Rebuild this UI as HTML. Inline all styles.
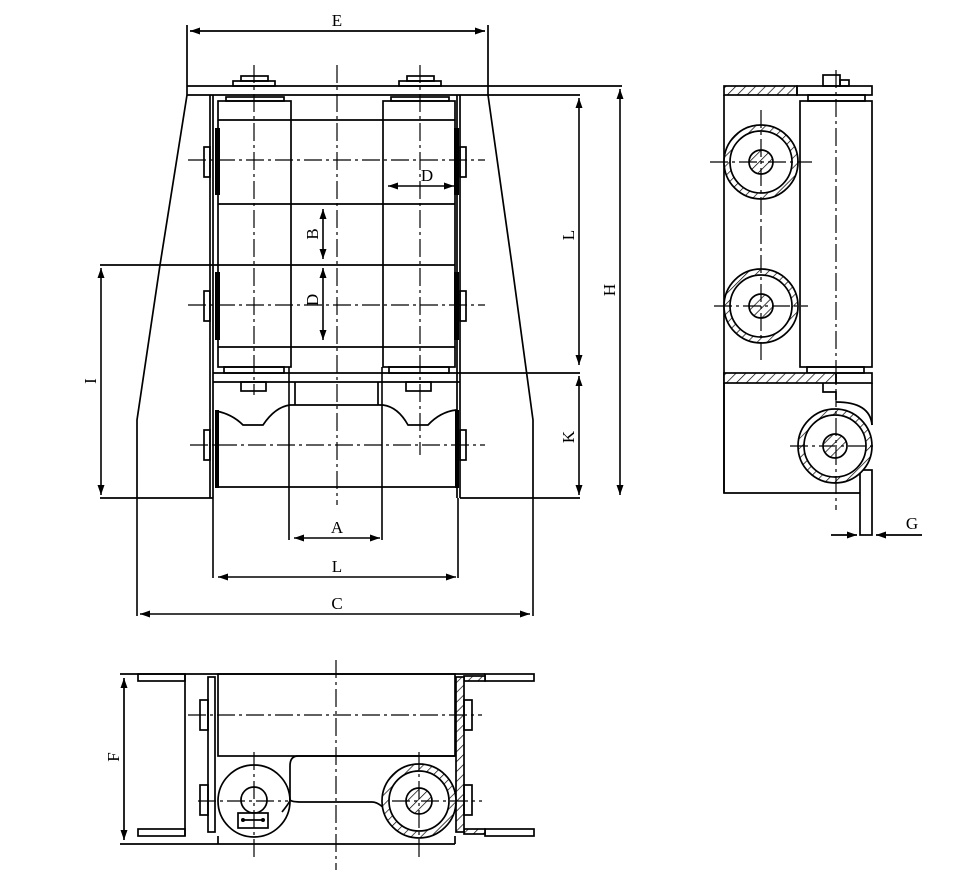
<!DOCTYPE html>
<html><head><meta charset="utf-8"><style>
html,body{margin:0;padding:0;background:#fff}
svg{display:block}
text{font-family:"Liberation Serif",serif;font-size:17px;fill:#000}
</style></head><body>
<svg width="962" height="884" viewBox="0 0 962 884" xmlns="http://www.w3.org/2000/svg">
<defs>
<pattern id="h" width="7" height="7" patternUnits="userSpaceOnUse" patternTransform="rotate(45)">
<rect width="7" height="7" fill="#fff"/><line x1="0" y1="0" x2="0" y2="7" stroke="#000" stroke-width="1.4"/>
</pattern>
<marker id="a" viewBox="0 0 10 10" refX="10" refY="5" markerWidth="10" markerHeight="10" orient="auto-start-reverse" markerUnits="userSpaceOnUse">
<path d="M0,1.5 L10,5 L0,8.5 z" fill="#000"/></marker>
</defs>
<g fill="none" stroke="#000" stroke-width="1.7">
<!-- FRONT VIEW -->
<line x1="187" y1="25" x2="187" y2="95"/><line x1="488" y1="25" x2="488" y2="95"/>
<line x1="190" y1="31" x2="485" y2="31" marker-start="url(#a)" marker-end="url(#a)"/>
<line x1="187" y1="86" x2="622" y2="86"/>
<line x1="187" y1="95" x2="580" y2="95"/>
<polyline points="187,95 160,265 137,420 137,498"/>
<polyline points="488,95 512,265 533,420 533,498"/>
<line x1="100" y1="498" x2="213" y2="498"/><line x1="460" y1="498" x2="580" y2="498"/>
<line x1="100" y1="265" x2="218" y2="265"/>
<line x1="210" y1="95" x2="210" y2="498"/><line x1="213" y1="95" x2="213" y2="498"/>
<line x1="457" y1="95" x2="457" y2="498"/><line x1="460" y1="95" x2="460" y2="498"/>
<rect x="233" y="81" width="42" height="5"/><rect x="241" y="76" width="27" height="5"/>
<rect x="399" y="81" width="42" height="5"/><rect x="407" y="76" width="27" height="5"/>
<rect x="226" y="97" width="58" height="4"/><rect x="391" y="97" width="58" height="4"/>
<rect x="218" y="101" width="73" height="266"/><rect x="383" y="101" width="72" height="266"/>
<line x1="218" y1="120" x2="455" y2="120"/>
<line x1="218" y1="204" x2="455" y2="204"/>
<line x1="218" y1="265" x2="455" y2="265"/>
<line x1="218" y1="347" x2="455" y2="347"/>
<line x1="213" y1="373" x2="580" y2="373"/><line x1="213" y1="382" x2="460" y2="382"/>
<rect x="224" y="367" width="60" height="6"/><rect x="389" y="367" width="60" height="6"/>
<rect x="241" y="382" width="25" height="9"/><rect x="406" y="382" width="25" height="9"/>
<line x1="295" y1="382" x2="295" y2="405"/><line x1="378" y1="382" x2="378" y2="405"/>
<path d="M216,411 Q232,414 243,425 L263,425 Q275,407 290,405 L383,405 Q398,407 408,425 L428,425 Q440,412 456,410 L456,487 L216,487 Z"/>
<g fill="#000" stroke="none">
<rect x="215" y="128" width="5" height="67"/><rect x="215" y="272" width="5" height="68"/><rect x="215" y="410" width="4" height="78"/>
<rect x="454" y="128" width="5" height="67"/><rect x="454" y="272" width="5" height="68"/><rect x="455" y="410" width="4" height="78"/>
</g>
<rect x="204" y="147" width="6" height="30"/><rect x="204" y="291" width="6" height="30"/><rect x="204" y="430" width="6" height="30"/>
<rect x="460" y="147" width="6" height="30"/><rect x="460" y="291" width="6" height="30"/><rect x="460" y="430" width="6" height="30"/>
</g>
<g fill="none" stroke="#000" stroke-width="1.2" stroke-dasharray="18,4,3,4">
<line x1="337" y1="65" x2="337" y2="505"/>
<line x1="254" y1="65" x2="254" y2="395"/><line x1="420" y1="65" x2="420" y2="455"/>
<line x1="188" y1="160" x2="485" y2="160"/>
<line x1="188" y1="305" x2="485" y2="305"/>
<line x1="190" y1="445" x2="485" y2="445"/>
</g>
<g fill="none" stroke="#000" stroke-width="1.6">
<line x1="101" y1="268" x2="101" y2="495" marker-start="url(#a)" marker-end="url(#a)"/>
<line x1="579" y1="98" x2="579" y2="365" marker-start="url(#a)" marker-end="url(#a)"/>
<line x1="579" y1="376" x2="579" y2="495" marker-start="url(#a)" marker-end="url(#a)"/>
<line x1="620" y1="89" x2="620" y2="495" marker-start="url(#a)" marker-end="url(#a)"/>
<line x1="289" y1="367" x2="289" y2="540"/><line x1="382" y1="367" x2="382" y2="540"/>
<line x1="294" y1="538" x2="380" y2="538" marker-start="url(#a)" marker-end="url(#a)"/>
<line x1="213" y1="498" x2="213" y2="578"/><line x1="458" y1="498" x2="458" y2="578"/>
<line x1="218" y1="577" x2="456" y2="577" marker-start="url(#a)" marker-end="url(#a)"/>
<line x1="137" y1="498" x2="137" y2="616"/><line x1="533" y1="498" x2="533" y2="616"/>
<line x1="140" y1="614" x2="530" y2="614" marker-start="url(#a)" marker-end="url(#a)"/>
<line x1="388" y1="186" x2="454" y2="186" marker-start="url(#a)" marker-end="url(#a)"/>
<line x1="323" y1="209" x2="323" y2="259" marker-start="url(#a)" marker-end="url(#a)"/>
<line x1="323" y1="268" x2="323" y2="340" marker-start="url(#a)" marker-end="url(#a)"/>
</g>
<text x="337" y="26" text-anchor="middle">E</text>
<text x="337" y="533" text-anchor="middle">A</text>
<text x="337" y="572" text-anchor="middle">L</text>
<text x="337" y="609" text-anchor="middle">C</text>
<text x="427" y="181" text-anchor="middle">D</text>
<text transform="translate(318,234) rotate(-90)" text-anchor="middle">B</text>
<text transform="translate(318,300) rotate(-90)" text-anchor="middle">D</text>
<text transform="translate(96,381) rotate(-90)" text-anchor="middle">I</text>
<text transform="translate(574,235) rotate(-90)" text-anchor="middle">L</text>
<text transform="translate(574,437) rotate(-90)" text-anchor="middle">K</text>
<text transform="translate(615,290) rotate(-90)" text-anchor="middle">H</text>

<!-- SIDE VIEW -->
<g fill="none" stroke="#000" stroke-width="1.7">
<rect x="724" y="86" width="73" height="9" fill="url(#h)"/>
<rect x="797" y="86" width="75" height="9"/>
<rect x="823" y="75" width="17" height="11"/><rect x="840" y="80" width="9" height="6"/>
<rect x="808" y="95" width="57" height="6"/>
<line x1="724" y1="95" x2="724" y2="493"/>
<rect x="800" y="101" width="72" height="266"/>
<rect x="807" y="367" width="57" height="6"/>
<rect x="724" y="373" width="112" height="10" fill="url(#h)"/>
<rect x="836" y="373" width="36" height="10"/>
<polyline points="823,383 823,392 836,392 836,400"/>
<polyline points="724,383 724,493 860,493"/>
<path d="M836,402 Q870,402 872,425"/>
<line x1="872" y1="383" x2="872" y2="425"/>
<rect x="860" y="470" width="12" height="65"/>
<circle cx="761" cy="162" r="37" fill="url(#h)"/><circle cx="761" cy="162" r="31" fill="#fff"/><circle cx="761" cy="162" r="12" fill="url(#h)"/>
<circle cx="761" cy="306" r="37" fill="url(#h)"/><circle cx="761" cy="306" r="31" fill="#fff"/><circle cx="761" cy="306" r="12" fill="url(#h)"/>
<circle cx="835" cy="446" r="37" fill="url(#h)"/><circle cx="835" cy="446" r="31" fill="#fff"/><circle cx="835" cy="446" r="12" fill="url(#h)"/>
<line x1="831" y1="535" x2="857" y2="535" marker-end="url(#a)"/>
<line x1="922" y1="535" x2="876" y2="535" marker-end="url(#a)"/>
</g>
<g fill="none" stroke="#000" stroke-width="1.2" stroke-dasharray="18,4,3,4">
<line x1="836" y1="70" x2="836" y2="510"/>
<line x1="761" y1="110" x2="761" y2="360"/>
<line x1="710" y1="162" x2="812" y2="162"/><line x1="714" y1="306" x2="808" y2="306"/>
<line x1="790" y1="446" x2="875" y2="446"/>
</g>
<text x="912" y="529" text-anchor="middle">G</text>

<!-- BOTTOM VIEW -->
<g fill="none" stroke="#000" stroke-width="1.7">
<line x1="120" y1="674" x2="485" y2="674"/>
<rect x="138" y="674" width="47" height="7"/><rect x="485" y="674" width="49" height="7"/>
<rect x="138" y="829" width="47" height="7"/><rect x="485" y="829" width="49" height="7"/>
<rect x="464" y="676" width="21" height="5" fill="url(#h)"/><rect x="464" y="829" width="21" height="5" fill="url(#h)"/>
<line x1="120" y1="844" x2="455" y2="844"/>
<line x1="185" y1="674" x2="185" y2="836"/>
<rect x="208" y="677" width="7" height="155"/>
<rect x="218" y="674" width="237" height="82"/>
<rect x="456" y="677" width="8" height="155" fill="url(#h)"/>
<rect x="200" y="700" width="8" height="30"/><rect x="200" y="785" width="8" height="30"/>
<rect x="464" y="700" width="8" height="30"/><rect x="464" y="785" width="8" height="30"/>
<path d="M218,836 L218,844 M455,836 L455,844"/>
<circle cx="254" cy="801" r="36" fill="#fff"/>
<circle cx="254" cy="800" r="13"/>
<rect x="238" y="813" width="30" height="15"/>
<line x1="243" y1="820" x2="263" y2="820"/>
<path d="M298,756 Q290,756 290,766 L290,800 Q290,802 282,812"/>
<path d="M290,800 Q292,802 302,802 L372,802 Q380,802 390,815"/>
<line x1="298" y1="756" x2="455" y2="756"/>
<circle cx="419" cy="801" r="37" fill="url(#h)"/><circle cx="419" cy="801" r="30" fill="#fff"/><circle cx="419" cy="801" r="13" fill="url(#h)"/>
<line x1="124" y1="678" x2="124" y2="840" marker-start="url(#a)" marker-end="url(#a)"/>
</g>
<g fill="#000"><circle cx="243" cy="820" r="2"/><circle cx="263" cy="820" r="2"/></g>
<g fill="none" stroke="#000" stroke-width="1.2" stroke-dasharray="18,4,3,4">
<line x1="336" y1="660" x2="336" y2="870"/>
<line x1="254" y1="752" x2="254" y2="858"/><line x1="419" y1="752" x2="419" y2="858"/>
<line x1="188" y1="715" x2="482" y2="715"/>
<line x1="198" y1="801" x2="288" y2="801"/><line x1="392" y1="801" x2="482" y2="801"/>
</g>
<text transform="translate(119,757) rotate(-90)" text-anchor="middle">F</text>
</svg>
</body></html>
